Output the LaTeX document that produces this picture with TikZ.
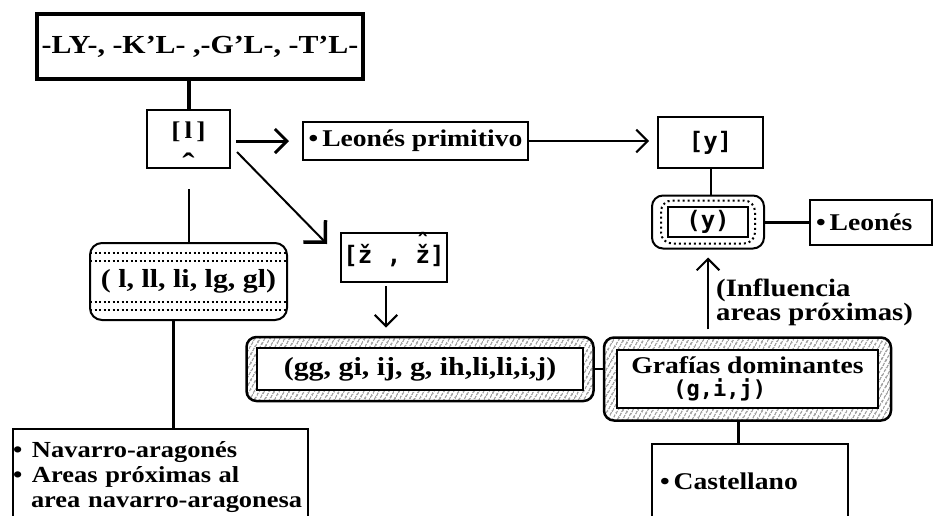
\documentclass[tikz,border=0pt]{standalone}
\usepackage{fontspec}
\setmainfont{Liberation Serif}[FakeStretch=1.15]
\newfontfamily\monofont{DejaVu Sans Mono}
\usetikzlibrary{arrows.meta,fit,backgrounds,patterns.meta}
\newcommand\zcirc{\ooalign{ž\cr\hidewidth\raisebox{0.52em}{ˆ}\hidewidth\cr}}
\newcommand\lcaret{\ooalign{l\cr\hidewidth\raisebox{-1.55em}{\fontsize{32}{32}\selectfont ˆ}\hidewidth\cr}}
\newcommand\bul{\makebox[19pt][l]{\textbullet}}
\begin{document}
\begin{tikzpicture}[x=1pt,y=-1pt,
  every node/.style={font=\fontsize{24}{28}\selectfont\bfseries, inner sep=0pt},
  box/.style={draw, line width=2pt, fill=white},
  mono/.style={font=\monofont\fontsize{24}{28}\selectfont\bfseries},
  dotbox/.style={draw, line width=2pt, fill=white, rounded corners=12pt,
    path picture={
      \foreach \d in {10,18} {
        \draw[line width=1.5pt, dash pattern=on 2pt off 2.5pt]
          ([yshift=-\d*1pt]path picture bounding box.north west) -- ([yshift=-\d*1pt]path picture bounding box.north east);
        \draw[line width=1.5pt, dash pattern=on 2pt off 2.5pt]
          ([yshift=\d*1pt]path picture bounding box.south west) -- ([yshift=\d*1pt]path picture bounding box.south east);
      }}},
  dotframe/.style={draw, line width=2pt, rounded corners=11pt, inner xsep=15pt, inner ysep=10.5pt,
    path picture={
      \draw[line width=2pt, dash pattern=on 2pt off 3pt]
        ([shift={(9pt,-5pt)}]path picture bounding box.north west) rectangle ([shift={(-9pt,5pt)}]path picture bounding box.south east);}},
  hatchframe/.style={draw, line width=2.5pt, rounded corners=10pt,
    pattern={Lines[angle=60, distance=4pt, line width=0.9pt]}},
  tipthick/.style={-{Straight Barb[angle=90:17pt, line width=3pt]}},
  tipthin/.style={-{Straight Barb[angle=90:16pt, line width=2pt]}},
  tipcorner/.style={-{Straight Barb[angle=90:22pt, line width=3.5pt]}}]
\useasboundingbox (0,0) rectangle (934,515);

\node[box, line width=4.5pt, minimum width=326pt, minimum height=65pt,
  font=\fontsize{26}{30}\selectfont\bfseries] (src) at (200,46.5) {-LY-, -K'L- ,-G'L-, -T'L-};
\node[box, minimum width=83pt, minimum height=58pt, text height=17pt, text depth=19pt] (lpal) at (188.5,139) {[\,\lcaret\,]};
\node[box, minimum width=225pt, minimum height=38pt] (lprim) at (415.5,141) {\textbullet\,Leonés primitivo};
\node[box, mono, minimum width=105pt, minimum height=51pt] (yb) at (710.5,142.5) {[y]};
\node[box, mono, minimum width=80pt, minimum height=30pt] (yin) at (708,222) {(y)};
\node[box, minimum width=122pt, minimum height=45pt, text width=110pt] (leon) at (871,222.5) {\textbullet\,Leonés};
\node[box, mono, minimum width=106pt, minimum height=49pt, text height=18pt, text depth=6pt] (zz) at (394,257.5) {[ž , \zcirc]};
\node[dotbox, minimum width=197pt, minimum height=77pt,
  font=\fontsize{26}{30}\selectfont\bfseries] (lvar) at (188.5,281.5) {( l, ll, li, lg, gl)};
\node[box, minimum width=326pt, minimum height=42pt,
  font=\fontsize{26}{30}\selectfont\bfseries] (ggin) at (420,369) {(gg, gi, ij, g, ih,li,li,i,j)};
\node[box, minimum width=261pt, minimum height=58pt, align=left,
  font=\fontsize{24}{23}\selectfont\bfseries] (grfin) at (747.5,379)
  {Grafías dominantes\\\hspace*{42pt}{\monofont\fontsize{22}{23}\selectfont\bfseries(g,i,j)}};
\node[anchor=west, align=left, font=\fontsize{25}{24}\selectfont\bfseries] (infl) at (716,302.5)
  {(Influencia\\areas próximas)};
\node[box, anchor=north west, text width=295pt, inner ysep=13pt, align=left,
  font=\fontsize{23}{25}\selectfont\bfseries] (nav) at (12,428)
  {\bul Navarro-aragonés\\\bul Areas próximas al\\\hspace*{18pt}\mbox{area navarro-aragonesa}};
\node[box, anchor=north west, minimum width=196pt, minimum height=74pt, text width=180pt,
  align=left] (cast) at (651,443) {\textbullet\,Castellano};

\begin{scope}[on background layer]
  \fill[white] (0,0) rectangle (934,515);
  \node[dotframe, fit=(yin)] (yfr) {};
  \node[hatchframe, inner xsep=9.5pt, inner ysep=10pt, fit=(ggin)] (ggfr) {};
  \node[hatchframe, inner xsep=12pt, inner ysep=11.5pt, fit=(grfin)] (grffr) {};
\end{scope}

\coordinate (dstart) at ([shift={(6pt,-13pt)}]lpal.east);
\coordinate (dtip) at ([shift={(-13pt,-12pt)}]zz.north west);

\draw[line width=4pt] (src.south -| lpal.north) -- (lpal.north);
\draw[line width=2pt, shorten <=20pt] (lpal.south) -- (lvar.north);
\draw[line width=3.5pt] ([xshift=-15pt]lvar.south) -- ([xshift=-15pt]lvar.south |- nav.north);
\draw[line width=3pt, tipthick, shorten <=5pt, shorten >=13pt] (lpal.east |- lprim) -- (lprim.west);
\draw[line width=2pt, tipthin, shorten >=8pt] (lprim.east) -- (lprim.east -| yb.west);
\draw[line width=2pt, tipcorner] (dstart) -- (dtip);
\draw[line width=2pt] (yb.south) -- (yb.south |- yfr.north);
\draw[line width=3pt] (yfr.east) -- (yfr.east -| leon.west);
\draw[line width=2pt, tipthin, shorten <=7pt, shorten >=8pt] (yfr.south |- grffr.north) -- (yfr.south);
\draw[line width=2pt, tipthin, shorten <=3pt, shorten >=9pt] ([xshift=-8pt]zz.south) -- ([xshift=-8pt]zz.south |- ggfr.north);
\draw[line width=2pt] (ggfr.east) -- (ggfr.east -| grffr.west);
\draw[line width=3pt] ([xshift=-9pt]grffr.south) -- ([xshift=-9pt]grffr.south |- cast.north);
\end{tikzpicture}
\end{document}
